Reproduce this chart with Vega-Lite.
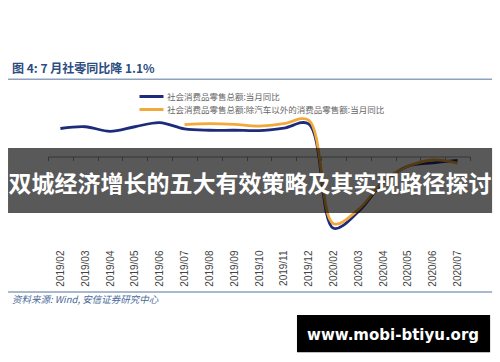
{
  "$schema": "https://vega.github.io/schema/vega-lite/v6.json",
  "width": 422,
  "height": 140,
  "autosize": {"type": "none"},
  "padding": {"left": 48, "top": 104, "right": 30, "bottom": 118},
  "background": "white",
  "config": {"view": {"stroke": null}, "font": "Liberation Sans"},
  "datasets": {
    "sales": [
      {"i": 0, "month": "2019/02", "series": "社会消费品零售总额:当月同比", "value": 8.0},
      {"i": 1, "month": "2019/03", "series": "社会消费品零售总额:当月同比", "value": 8.5},
      {"i": 2, "month": "2019/04", "series": "社会消费品零售总额:当月同比", "value": 7.2},
      {"i": 3, "month": "2019/05", "series": "社会消费品零售总额:当月同比", "value": 8.5},
      {"i": 4, "month": "2019/06", "series": "社会消费品零售总额:当月同比", "value": 9.7},
      {"i": 5, "month": "2019/07", "series": "社会消费品零售总额:当月同比", "value": 7.9},
      {"i": 6, "month": "2019/08", "series": "社会消费品零售总额:当月同比", "value": 7.5},
      {"i": 7, "month": "2019/09", "series": "社会消费品零售总额:当月同比", "value": 7.5},
      {"i": 8, "month": "2019/10", "series": "社会消费品零售总额:当月同比", "value": 7.4},
      {"i": 9, "month": "2019/11", "series": "社会消费品零售总额:当月同比", "value": 8.1},
      {"i": 10, "month": "2019/12", "series": "社会消费品零售总额:当月同比", "value": 9.3},
      {"i": 11, "month": "2020/02", "series": "社会消费品零售总额:当月同比", "value": -20.5},
      {"i": 12, "month": "2020/03", "series": "社会消费品零售总额:当月同比", "value": -15.8},
      {"i": 13, "month": "2020/04", "series": "社会消费品零售总额:当月同比", "value": -7.5},
      {"i": 14, "month": "2020/05", "series": "社会消费品零售总额:当月同比", "value": -2.8},
      {"i": 15, "month": "2020/06", "series": "社会消费品零售总额:当月同比", "value": -1.8},
      {"i": 16, "month": "2020/07", "series": "社会消费品零售总额:当月同比", "value": -1.1},
      {"i": 5, "month": "2019/07", "series": "社会消费品零售总额:除汽车以外的消费品零售额:当月同比", "value": 9.1},
      {"i": 6, "month": "2019/08", "series": "社会消费品零售总额:除汽车以外的消费品零售额:当月同比", "value": 9.4},
      {"i": 7, "month": "2019/09", "series": "社会消费品零售总额:除汽车以外的消费品零售额:当月同比", "value": 9.2},
      {"i": 8, "month": "2019/10", "series": "社会消费品零售总额:除汽车以外的消费品零售额:当月同比", "value": 8.7},
      {"i": 9, "month": "2019/11", "series": "社会消费品零售总额:除汽车以外的消费品零售额:当月同比", "value": 9.4},
      {"i": 10, "month": "2019/12", "series": "社会消费品零售总额:除汽车以外的消费品零售额:当月同比", "value": 10.4},
      {"i": 11, "month": "2020/02", "series": "社会消费品零售总额:除汽车以外的消费品零售额:当月同比", "value": -19.2},
      {"i": 12, "month": "2020/03", "series": "社会消费品零售总额:除汽车以外的消费品零售额:当月同比", "value": -15.2},
      {"i": 13, "month": "2020/04", "series": "社会消费品零售总额:除汽车以外的消费品零售额:当月同比", "value": -7.2},
      {"i": 14, "month": "2020/05", "series": "社会消费品零售总额:除汽车以外的消费品零售额:当月同比", "value": -2.8},
      {"i": 15, "month": "2020/06", "series": "社会消费品零售总额:除汽车以外的消费品零售额:当月同比", "value": -1.0},
      {"i": 16, "month": "2020/07", "series": "社会消费品零售总额:除汽车以外的消费品零售额:当月同比", "value": -1.9}
    ]
  },
  "layer": [
    {
      "data": {"name": "sales"},
      "mark": {"type": "line", "interpolate": "catmull-rom", "strokeWidth": 2.8},
      "encoding": {
        "x": {
          "field": "i", "type": "quantitative",
          "scale": {"domain": [-0.5, 16.5], "nice": false, "zero": false},
          "axis": {
            "orient": "bottom", "values": [0,1,2,3,4,5,6,7,8,9,10,11,12,13,14,15,16],
            "labelExpr": "['2019/02','2019/03','2019/04','2019/05','2019/06','2019/07','2019/08','2019/09','2019/10','2019/11','2019/12','2020/02','2020/03','2020/04','2020/05','2020/06','2020/07'][datum.value]",
            "labelAngle": -90, "labelAlign": "right", "labelBaseline": "middle",
            "labelPadding": 6, "labelFontSize": 10, "labelColor": "#444",
            "labelFlush": false, "labelOverlap": false,
            "ticks": false, "domain": false, "grid": false, "title": null
          }
        },
        "y": {
          "field": "value", "type": "quantitative",
          "scale": {"domain": [-25, 15], "nice": false, "zero": false},
          "axis": {
            "values": [-25, -20, -15, -10, -5, 0, 5, 10, 15],
            "title": null, "grid": false, "domainColor": "#999", "tickColor": "#999",
            "tickSize": 3, "labelFontSize": 11, "labelColor": "#444", "labelPadding": 3
          }
        },
        "color": {
          "field": "series", "type": "nominal",
          "scale": {
            "domain": ["社会消费品零售总额:当月同比", "社会消费品零售总额:除汽车以外的消费品零售额:当月同比"],
            "range": ["#1c2b7a", "#f2a93b"]
          },
          "legend": {
            "orient": "none", "legendX": 90, "legendY": -14, "title": null,
            "symbolType": "stroke", "symbolSize": 576, "symbolStrokeWidth": 3,
            "clipHeight": 13, "rowPadding": 0, "padding": 0, "direction": "vertical",
            "labelFont": "Noto Sans CJK SC", "labelFontSize": 8.5, "labelColor": "#666",
            "labelOffset": 2, "labelLimit": 400
          }
        }
      }
    },
    {
      "data": {"values": [{}]},
      "mark": {"type": "rect", "fill": "#000", "opacity": 0.65},
      "encoding": {
        "x": {
          "datum": -2.11, "type": "quantitative",
          "scale": {"domain": [-0.5, 16.5], "nice": false, "zero": false},
          "axis": {
            "orient": "bottom", "offset": -87.5,
            "values": [-0.5,0.5,1.5,2.5,3.5,4.5,5.5,6.5,7.5,8.5,9.5,10.5,11.5,12.5,13.5,14.5,15.5,16.5],
            "labels": false, "ticks": true, "tickSize": 4, "domain": true,
            "domainColor": "#999", "tickColor": "#999", "grid": false, "title": null
          }
        },
        "x2": {"datum": 17.39},
        "y": {"datum": 2.43, "type": "quantitative", "scale": {"domain": [-25, 15], "nice": false, "zero": false}, "axis": null},
        "y2": {"datum": -16.14}
      }
    },
    {
      "data": {"values": [{}]},
      "mark": {"type": "text", "text": "双城经济增长的五大有效策略及其实现路径探讨", "font": "Noto Sans CJK SC", "fontWeight": "bold", "fontSize": 23, "fill": "#ffffff", "align": "center", "baseline": "middle"},
      "encoding": {
        "x": {"datum": 7.64, "type": "quantitative", "scale": {"domain": [-0.5, 16.5], "nice": false, "zero": false}, "axis": null},
        "y": {"datum": -8.14, "type": "quantitative", "scale": {"domain": [-25, 15], "nice": false, "zero": false}, "axis": null}
      }
    },
    {
      "data": {"values": [{}]},
      "mark": {"type": "text", "text": "图 4: 7 月社零同比降 1.1%", "font": "Noto Sans CJK SC", "fontWeight": "bold", "fontSize": 12, "fill": "#2b4c7e", "align": "left", "baseline": "middle"},
      "encoding": {
        "x": {"datum": -1.95, "type": "quantitative", "scale": {"domain": [-0.5, 16.5], "nice": false, "zero": false}, "axis": null},
        "y": {"datum": 25.0, "type": "quantitative", "scale": {"domain": [-25, 15], "nice": false, "zero": false}, "axis": null}
      }
    },
    {
      "data": {"values": [{"pos": 22.1}, {"pos": -38.7}]},
      "mark": {"type": "rule", "stroke": "#8da2bd", "strokeWidth": 1.5},
      "encoding": {
        "x": {"datum": -2.11, "type": "quantitative", "scale": {"domain": [-0.5, 16.5], "nice": false, "zero": false}, "axis": null},
        "x2": {"datum": 17.39},
        "y": {"field": "pos", "type": "quantitative", "scale": {"domain": [-25, 15], "nice": false, "zero": false}, "axis": null}
      }
    },
    {
      "data": {"values": [{}]},
      "mark": {"type": "text", "text": "资料来源: Wind, 安信证券研究中心", "font": "Noto Sans CJK SC", "fontStyle": "italic", "fontSize": 9.5, "fill": "#4a6a9a", "align": "left", "baseline": "middle"},
      "encoding": {
        "x": {"datum": -1.95, "type": "quantitative", "scale": {"domain": [-0.5, 16.5], "nice": false, "zero": false}, "axis": null},
        "y": {"datum": -41.1, "type": "quantitative", "scale": {"domain": [-25, 15], "nice": false, "zero": false}, "axis": null}
      }
    },
    {
      "data": {"values": [{}]},
      "mark": {"type": "rect", "fill": "#000"},
      "encoding": {
        "x": {"datum": 9.53, "type": "quantitative", "scale": {"domain": [-0.5, 16.5], "nice": false, "zero": false}, "axis": null},
        "x2": {"datum": 17.31},
        "y": {"datum": -45.3, "type": "quantitative", "scale": {"domain": [-25, 15], "nice": false, "zero": false}, "axis": null},
        "y2": {"datum": -55.9}
      }
    },
    {
      "data": {"values": [{}]},
      "mark": {"type": "text", "text": "www.mobi-btiyu.org", "font": "DejaVu Sans", "fontWeight": "bold", "fontSize": 15, "fill": "#ffffff", "align": "center", "baseline": "middle"},
      "encoding": {
        "x": {"datum": 13.40, "type": "quantitative", "scale": {"domain": [-0.5, 16.5], "nice": false, "zero": false}, "axis": null},
        "y": {"datum": -51.0, "type": "quantitative", "scale": {"domain": [-25, 15], "nice": false, "zero": false}, "axis": null}
      }
    }
  ],
  "resolve": {"axis": {"x": "independent"}}
}
